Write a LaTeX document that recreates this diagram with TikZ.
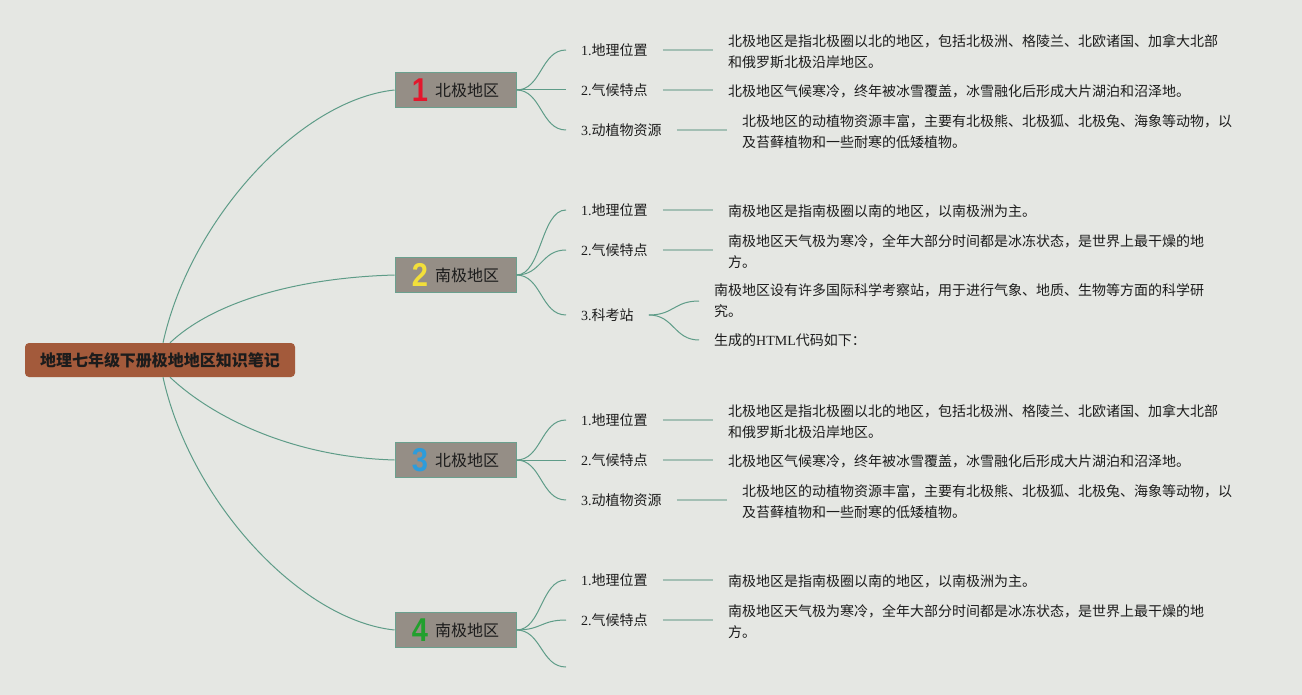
\documentclass[tikz,border=0pt]{standalone}
\usepackage{fontspec}
\setmainfont{Noto Sans CJK SC}
\newfontfamily\latf{Liberation Serif}
\newfontfamily\numf{Liberation Sans}
\usetikzlibrary{positioning}
\definecolor{bgc}{HTML}{E5E7E3}
\definecolor{rootc}{HTML}{A35A3B}
\definecolor{branchc}{HTML}{958E86}
\definecolor{branchline}{HTML}{6AA08E}
\definecolor{linkc}{HTML}{5E9C88}
\definecolor{stubc}{HTML}{A3BFB4}
\definecolor{textc}{HTML}{1C1C1C}
\definecolor{n1}{HTML}{E3172C}
\definecolor{n2}{HTML}{F2DF3A}
\definecolor{n3}{HTML}{2D9CDB}
\definecolor{n4}{HTML}{22A02E}
\newcommand\digitmark[2]{\smash{\raisebox{-5pt}{\scalebox{0.88}[1]{\numf\bfseries\fontsize{33}{33}\selectfont\color{#1}#2}}}\hspace{7pt}}
\newcommand\txtNa{北极地区是指北极圈以北的地区，包括北极洲、格陵兰、北欧诸国、加拿大北部\\和俄罗斯北极沿岸地区。}
\newcommand\txtNb{北极地区气候寒冷，终年被冰雪覆盖，冰雪融化后形成大片湖泊和沼泽地。}
\newcommand\txtNc{北极地区的动植物资源丰富，主要有北极熊、北极狐、北极兔、海象等动物，以\\及苔藓植物和一些耐寒的低矮植物。}
\newcommand\txtSa{南极地区是指南极圈以南的地区，以南极洲为主。}
\newcommand\txtSb{南极地区天气极为寒冷，全年大部分时间都是冰冻状态，是世界上最干燥的地\\方。}
\begin{document}
\begin{tikzpicture}[x=1pt,y=-1pt,
  rootbox/.style={fill=rootc, rounded corners=4pt, minimum width=270pt, minimum height=34pt, inner sep=0pt, font=\fontsize{16}{16}\selectfont\bfseries, text=textc},
  branchbox/.style={draw=branchline, fill=branchc, line width=1pt, minimum width=121pt, minimum height=35pt, inner sep=0pt, font=\fontsize{16}{16}\selectfont, text=textc},
  sublabel/.style={anchor=west, inner xsep=15pt, inner ysep=2pt, font=\fontsize{14}{21}\selectfont, text=textc},
  detail/.style={align=left, inner xsep=15pt, inner ysep=2pt, font=\fontsize{14}{21}\selectfont, text=textc},
  dshift/.style={yshift=-1.5pt},
  link/.style={draw=linkc, line width=1pt},
  stub/.style={draw=stubc, line width=1.8pt},
]
\fill[bgc] (0,0) rectangle (1302,695);
\useasboundingbox (0,0) rectangle (1302,695);

\node[rootbox] (root) at (160,360) {地理七年级下册极地地区知识笔记};

\node[branchbox] (b1) at (455.5,90) {\digitmark{n1}{1}北极地区};
\node[branchbox] (b2) at (455.5,275) {\digitmark{n2}{2}南极地区};
\node[branchbox] (b3) at (455.5,460) {\digitmark{n3}{3}北极地区};
\node[branchbox] (b4) at (455.5,630) {\digitmark{n4}{4}南极地区};

\draw[link] ([xshift=3pt]root.north) .. controls +(27,-123) and +(-95,10) .. (b1.west);
\draw[link] ([xshift=10pt]root.north) .. controls +(40,-38) and +(-105,3) .. (b2.west);
\draw[link] ([xshift=10pt]root.south) .. controls +(40,38) and +(-105,-3) .. (b3.west);
\draw[link] ([xshift=3pt]root.south) .. controls +(27,123) and +(-95,-10) .. (b4.west);

% branch 1
\node[sublabel] (s11) at (566,50) {{\latf 1.}地理位置};
\node[sublabel] (s12) at (566,90) {{\latf 2.}气候特点};
\node[sublabel] (s13) at (566,130) {{\latf 3.}动植物资源};
\node[detail, right=50pt of s11, dshift] (d11) {\txtNa};
\node[detail, right=50pt of s12, dshift] (d12) {\txtNb};
\node[detail, right=50pt of s13, dshift] (d13) {\txtNc};
\foreach \s/\d in {s11/d11,s12/d12,s13/d13}{
  \draw[link] (b1.east) .. controls +(25,0) and +(-25,0) .. (\s.west);
  \draw[stub] (\s.east) -- (\s.east -| \d.west);
}

% branch 2
\node[sublabel] (s21) at (566,210) {{\latf 1.}地理位置};
\node[sublabel] (s22) at (566,250) {{\latf 2.}气候特点};
\node[sublabel] (s23) at (566,315) {{\latf 3.}科考站};
\node[detail, right=50pt of s21, dshift] (d21) {\txtSa};
\node[detail, right=50pt of s22, dshift] (d22) {\txtSb};
\foreach \s/\d in {s21/d21,s22/d22}{
  \draw[stub] (\s.east) -- (\s.east -| \d.west);
}
\foreach \s in {s21,s22,s23}{
  \draw[link] (b2.east) .. controls +(25,0) and +(-25,0) .. (\s.west);
}
\node[detail, anchor=west] (d23a) at (699,301) {南极地区设有许多国际科学考察站，用于进行气象、地质、生物等方面的科学研\\究。};
\node[detail, anchor=west] (d23b) at (699,340) {生成的{\latf HTML}代码如下：};
\draw[link] (s23.east) .. controls +(25,0) and +(-25,0) .. (d23a.west);
\draw[link] (s23.east) .. controls +(25,0) and +(-25,0) .. (d23b.west);

% branch 3
\node[sublabel] (s31) at (566,420) {{\latf 1.}地理位置};
\node[sublabel] (s32) at (566,460) {{\latf 2.}气候特点};
\node[sublabel] (s33) at (566,500) {{\latf 3.}动植物资源};
\node[detail, right=50pt of s31, dshift] (d31) {\txtNa};
\node[detail, right=50pt of s32, dshift] (d32) {\txtNb};
\node[detail, right=50pt of s33, dshift] (d33) {\txtNc};
\foreach \s/\d in {s31/d31,s32/d32,s33/d33}{
  \draw[link] (b3.east) .. controls +(25,0) and +(-25,0) .. (\s.west);
  \draw[stub] (\s.east) -- (\s.east -| \d.west);
}

% branch 4
\node[sublabel] (s41) at (566,580) {{\latf 1.}地理位置};
\node[sublabel] (s42) at (566,620) {{\latf 2.}气候特点};
\coordinate (s43) at (566,667);
\node[detail, right=50pt of s41, dshift] (d41) {\txtSa};
\node[detail, right=50pt of s42, dshift] (d42) {\txtSb};
\foreach \s/\d in {s41/d41,s42/d42}{
  \draw[stub] (\s.east) -- (\s.east -| \d.west);
  \draw[link] (b4.east) .. controls +(25,0) and +(-25,0) .. (\s.west);
}
\draw[link] (b4.east) .. controls +(25,0) and +(-25,0) .. (s43);
\end{tikzpicture}
\end{document}
